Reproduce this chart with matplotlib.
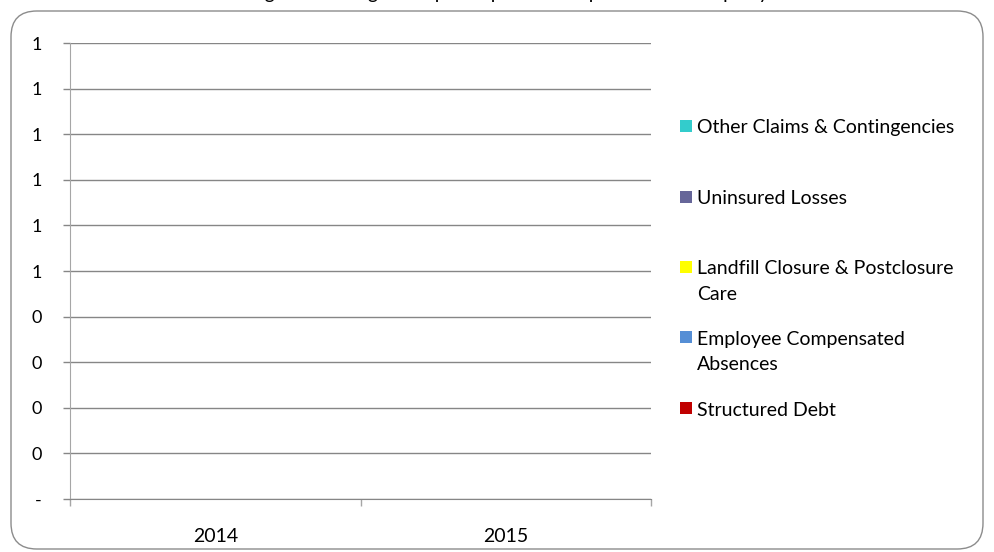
import math
import matplotlib
matplotlib.use("Agg")
import matplotlib.pyplot as plt
from matplotlib.patches import FancyBboxPatch, Rectangle

plt.rcParams["font.family"] = ["Lato", "DejaVu Sans"]

W, H = 994, 552

years = ["2014", "2015"]
series_names = [
    "Structured Debt",
    "Employee Compensated\nAbsences",
    "Landfill Closure & Postclosure\nCare",
    "Uninsured Losses",
    "Other Claims & Contingencies",
]
series_colors = ["#C00000", "#558ED5", "#FFFF00", "#666699", "#33CCCC"]
series_values = [
    [0, 0],
    [0, 0],
    [0, 0],
    [0, 0],
    [0, 0],
]
y_ticks = [0.0, 0.1, 0.2, 0.3, 0.4, 0.5, 0.6, 0.7, 0.8, 0.9, 1.0]

TITLE = "Other Long-Term Obligations per Capita in Comparison of Groups by Fund"
GRID = "#868686"
AXIS = "#A6A6A6"


def acct(v):
    # Excel accounting format, no decimals: zero shows as a dash
    n = math.floor(v + 0.5 + 1e-9)
    return "-" if abs(v) < 1e-12 else f"{n:,}"


def fx(px):
    return px / W


def fy(py):
    return 1 - py / H


fig = plt.figure(figsize=(W / 100, H / 100), dpi=100)
fig.patch.set_facecolor("white")

# rounded chart border
border = FancyBboxPatch((fx(11), fy(549)), fx(983) - fx(11), fy(11) - fy(549),
                        boxstyle="round,pad=0,rounding_size=0.026",
                        transform=fig.transFigure, facecolor="none",
                        edgecolor="#8C8C8C", linewidth=1.0,
                        mutation_aspect=W / H)
fig.patches.append(border)

# title sits mostly above the canvas, as in the source image
fig.text(0.5, fy(-1), TITLE, ha="center", va="baseline", fontsize=14, color="black")

ax = fig.add_axes([fx(70), fy(499), fx(651) - fx(70), fy(43) - fy(499)])
x = list(range(len(years)))
bottom = [0] * len(years)
for name, color, vals in zip(series_names, series_colors, series_values):
    ax.bar(x, vals, width=0.55, bottom=bottom, color=color, label=name)
    bottom = [b + v for b, v in zip(bottom, vals)]

ax.set_xlim(-0.5, len(years) - 0.5)
ax.set_ylim(y_ticks[0], y_ticks[-1])
ax.set_yticks(y_ticks)
ax.set_yticklabels([acct(v) for v in y_ticks])
ax.yaxis.grid(True, color=GRID, linewidth=1.0)
ax.set_axisbelow(True)

ax.set_xticks([i - 0.5 for i in range(len(years) + 1)])
ax.set_xticklabels([])
ax.set_xticks(x, minor=True)
ax.set_xticklabels(years, minor=True)
ax.tick_params(axis="x", which="major", length=5, color=AXIS, width=1)
ax.tick_params(axis="x", which="minor", length=0, pad=21, labelsize=14)
ax.tick_params(axis="y", length=5, color=GRID, width=1, pad=15.5, labelsize=13)

for s in ["top", "right"]:
    ax.spines[s].set_visible(False)
ax.spines["left"].set_color(AXIS)
ax.spines["bottom"].set_color(GRID)

# legend, drawn in the order Excel shows it (top = last series)
legend_rows = [126, 197, 267, 337, 408]
for (name, color), row in zip(list(zip(series_names, series_colors))[::-1], legend_rows):
    fig.patches.append(Rectangle((fx(680), fy(row + 6)), fx(12), 12 / H,
                                 transform=fig.transFigure, facecolor=color,
                                 edgecolor="none"))
    fig.text(fx(697), fy(row - 6.5), name, ha="left", va="top", fontsize=14,
             linespacing=1.6, color="black")

fig.savefig("out.png", dpi=100, facecolor="white")
